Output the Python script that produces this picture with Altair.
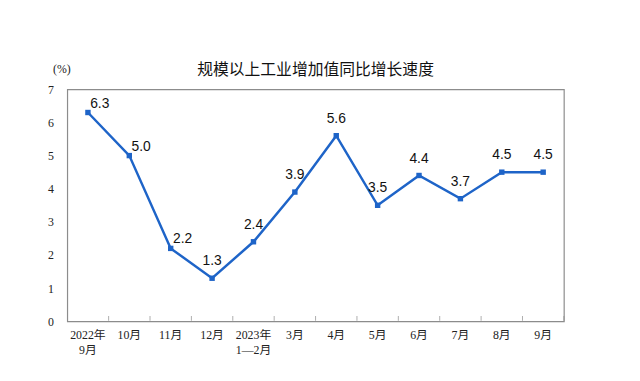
import altair as alt
import pandas as pd

categories = ["2022年|9月", "10月", "11月", "12月", "2023年|1—2月", "3月", "4月",
              "5月", "6月", "7月", "8月", "9月"]
values = [6.3, 5.0, 2.2, 1.3, 2.4, 3.9, 5.6, 3.5, 4.4, 3.7, 4.5, 4.5]
label_side = ["right", "right", "right", "top", "top", "top", "top",
              "top", "top", "top", "top", "top"]

df = pd.DataFrame({
    "cat": categories,
    "val": values,
    "lbl": [f"{v:.1f}" for v in values],
    "side": label_side,
})

BLUE = "#1E64C8"
GRAY = "#8c8c8c"

x_axis = alt.Axis(
    labelExpr="split(datum.label, '|')", labelAngle=0, ticks=False,
    domain=False, labelPadding=8, labelFontSize=12, bandPosition=0.5,
    labelFont="Liberation Serif, Noto Sans CJK SC", labelColor="#222",
    labelLineHeight=16,
)
x_scale = alt.Scale(paddingInner=0, paddingOuter=0)
y_axis = alt.Axis(
    values=[0, 1, 2, 3, 4, 5, 6, 7], tickCount=8, grid=False, ticks=False,
    domain=False, labelOverlap=False,
    labelPadding=14, labelFontSize=12, labelFont="Liberation Serif",
    labelColor="#222", titleAngle=0, titleX=-6, titleY=-14,
    titleAlign="center", titleFontWeight="normal", titleFontSize=12,
    titleFont="Liberation Serif", titleColor="#222",
)
y_scale = alt.Scale(domain=[0, 7], nice=False)


def X(**kw):
    return alt.X("cat:N", sort=categories, title=None, scale=x_scale, axis=x_axis, **kw)


def Y():
    return alt.Y("val:Q", title="(%)", scale=y_scale, axis=y_axis)


base = alt.Chart(df)

line = base.mark_line(color=BLUE, strokeWidth=2.5).encode(x=X(), y=Y())

ticks = base.mark_tick(color=GRAY, size=5, thickness=1, orient="vertical").encode(
    x=X(bandPosition=1),
    y=alt.value(232),
)

pts = base.mark_square(color=BLUE, size=30, opacity=1).encode(x=X(), y=Y())

txt_r = base.transform_filter("datum.side == 'right'").mark_text(
    dx=12, dy=-9, fontSize=14, font="Liberation Sans", color="#111"
).encode(x=X(), y=Y(), text="lbl:N")

txt_t = base.transform_filter("datum.side == 'top'").mark_text(
    dy=-17, fontSize=14, font="Liberation Sans", color="#111"
).encode(x=X(), y=Y(), text="lbl:N")

chart = alt.layer(line, ticks, pts, txt_r, txt_t).properties(
    width=503, height=235,
    title=alt.TitleParams(
        "规模以上工业增加值同比增长速度", fontSize=16, font="Noto Sans CJK SC",
        fontWeight="normal", color="#111", anchor="middle", offset=-16,
    ),
    autosize=alt.AutoSizeParams(type="none"),
    padding={"left": 60, "top": 80, "right": 69, "bottom": 50},
).configure_view(stroke=GRAY, strokeWidth=1.2)

chart.save("out.html", embed_options={"renderer": "svg", "actions": False})
